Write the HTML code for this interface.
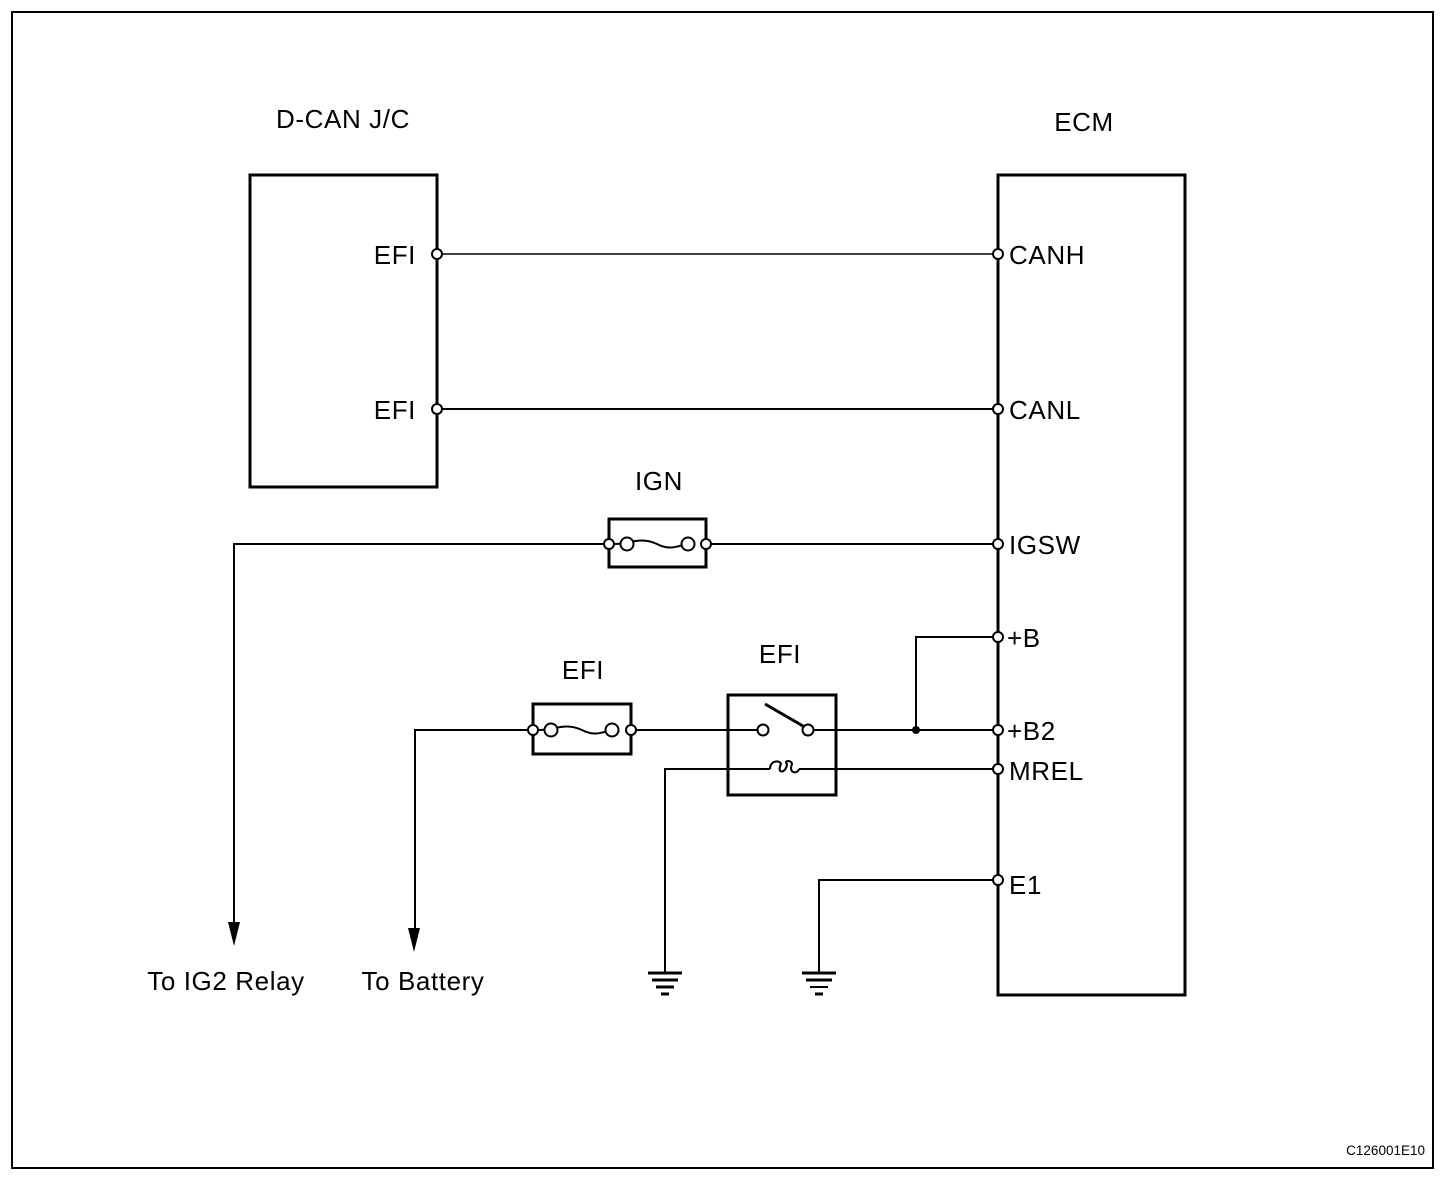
<!DOCTYPE html>
<html><head><meta charset="utf-8"><style>
html,body{margin:0;padding:0;background:#fff;}
svg{display:block;}
text{font-family:"Liberation Sans",Arial,sans-serif;font-size:26px;letter-spacing:0.6px;fill:#000;}
</style></head><body>
<svg width="1456" height="1194" viewBox="0 0 1456 1194" xmlns="http://www.w3.org/2000/svg">
<rect x="12" y="12" width="1421" height="1156" fill="none" stroke="#000" stroke-width="2"/>
<g fill="none" stroke="#000" stroke-width="3">
<rect x="250" y="175" width="187" height="312"/>
<rect x="998" y="175" width="187" height="820"/>
<rect x="609" y="519" width="97" height="48"/>
<rect x="533" y="704" width="98" height="50"/>
<rect x="728" y="695" width="108" height="100"/>
</g>
<g fill="none" stroke="#000" stroke-width="1.5">
<line x1="437" y1="254" x2="998" y2="254"/>
</g>
<g fill="none" stroke="#000" stroke-width="2">
<line x1="437" y1="409" x2="998" y2="409"/>
<polyline points="609,544 234,544 234,925"/>
<line x1="706" y1="544" x2="998" y2="544"/>
<polyline points="533,730 415,730 415,930"/>
<line x1="631" y1="730" x2="758" y2="730"/>
<line x1="813" y1="730" x2="998" y2="730"/>
<polyline points="916,730 916,637 998,637"/>
<polyline points="770,769 665,769 665,973"/>
<line x1="799" y1="769" x2="998" y2="769"/>
<polyline points="998,880 819,880 819,973"/>
<line x1="765" y1="704" x2="803" y2="726" stroke-width="3"/>
<path d="M615,544 C630,544 640,536 657,544 C672,552 680,544 690,544"/>
<path d="M539,730 C555,730 565,722 582,730 C597,738 605,730 615,730"/>
<path d="M770,769 C770,760 780,760 781,764 C776,774 786,774 787,764 C783,760 792,760 792,764 C788,774 798,774 799,769"/>
</g>
<g fill="#fff" stroke="#000" stroke-width="2">
<circle cx="437" cy="254" r="5"/><circle cx="998" cy="254" r="5"/>
<circle cx="437" cy="409" r="5"/><circle cx="998" cy="409" r="5"/>
<circle cx="998" cy="544" r="5"/><circle cx="998" cy="637" r="5"/>
<circle cx="998" cy="730" r="5"/><circle cx="998" cy="769" r="5"/>
<circle cx="998" cy="880" r="5"/>
<circle cx="609" cy="544" r="5"/><circle cx="706" cy="544" r="5"/>
<circle cx="627" cy="544" r="6.5"/><circle cx="688" cy="544" r="6.5"/>
<circle cx="533" cy="730" r="5"/><circle cx="631" cy="730" r="5"/>
<circle cx="551" cy="730" r="6.5"/><circle cx="612" cy="730" r="6.5"/>
<circle cx="763" cy="730" r="5.5"/><circle cx="808" cy="730" r="5.5"/>
</g>
<circle cx="916" cy="730" r="4" fill="#000"/>
<g fill="#000">
<polygon points="228,922 240,922 234,946"/>
<polygon points="408,928 420,928 414,952"/>
</g>
<g stroke="#000" stroke-width="3">
<line x1="648" y1="973" x2="682" y2="973"/><line x1="652" y1="980" x2="678" y2="980"/>
<line x1="656" y1="987" x2="674" y2="987"/><line x1="661" y1="994" x2="669" y2="994"/>
<line x1="802" y1="973" x2="836" y2="973"/><line x1="806" y1="980" x2="832" y2="980"/>
<line x1="810" y1="987" x2="828" y2="987" stroke-width="2"/><line x1="815" y1="994" x2="823" y2="994"/>
</g>
<text x="343" y="128" text-anchor="middle">D-CAN J/C</text>
<text x="1084" y="131" text-anchor="middle">ECM</text>
<text x="416" y="264" text-anchor="end">EFI</text>
<text x="416" y="419" text-anchor="end">EFI</text>
<text x="1009" y="264">CANH</text>
<text x="1009" y="419">CANL</text>
<text x="1009" y="554">IGSW</text>
<text x="1007" y="647">+B</text>
<text x="1007" y="740">+B2</text>
<text x="1009" y="780">MREL</text>
<text x="1009" y="894">E1</text>
<text x="659" y="490" text-anchor="middle">IGN</text>
<text x="583" y="679" text-anchor="middle">EFI</text>
<text x="780" y="663" text-anchor="middle">EFI</text>
<text x="226" y="990" text-anchor="middle">To IG2 Relay</text>
<text x="423" y="990" text-anchor="middle">To Battery</text>
<text x="1425" y="1155" text-anchor="end" style="font-size:13.5px;letter-spacing:0">C126001E10</text>
</svg>
</body></html>
